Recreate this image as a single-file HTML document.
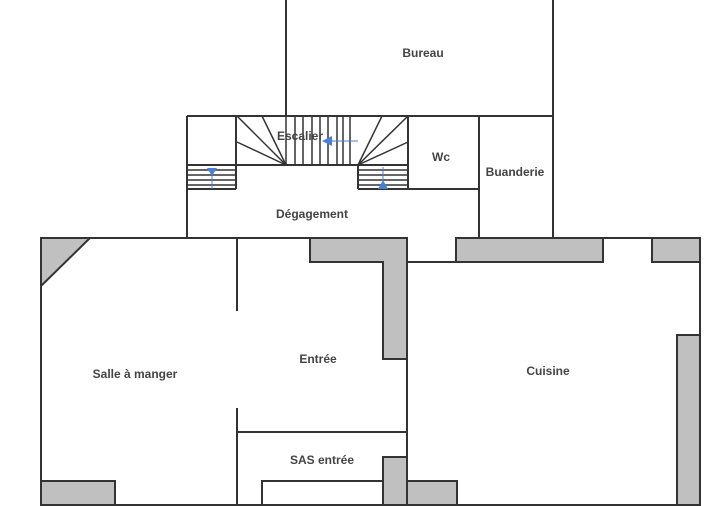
<!DOCTYPE html>
<html><head><meta charset="utf-8"><style>
html,body{margin:0;padding:0;background:#fff;width:721px;height:506px;overflow:hidden}
text{font-family:"Liberation Sans",sans-serif;font-weight:bold;font-size:12px;fill:#444}
</style></head><body>
<svg width="721" height="506" viewBox="0 0 721 506" xmlns="http://www.w3.org/2000/svg">
<g fill="#c0c0c0" stroke="#333" stroke-width="2">
<polygon points="41,238 90,238 41,286"/>
<polygon points="310,238 407,238 407,359 383,359 383,262 310,262"/>
<rect x="383" y="457" width="24" height="48"/>
<rect x="41" y="481" width="74" height="24"/>
<rect x="456" y="238" width="147" height="24"/>
<rect x="652" y="238" width="48" height="24"/>
<rect x="677" y="335" width="23" height="170"/>
<rect x="407" y="481" width="50" height="24"/>
</g>
<g fill="none" stroke="#333" stroke-width="2">
<polyline points="286,0 286,116"/>
<polyline points="553,0 553,238"/>
<polyline points="187,116 553,116"/>
<polyline points="187,116 187,238 407,238"/>
<line x1="479" y1="116" x2="479" y2="238"/>
<line x1="408" y1="116" x2="408" y2="189"/>
<line x1="358" y1="189" x2="479" y2="189"/>
<line x1="236" y1="116" x2="236" y2="189"/>
<line x1="187" y1="189" x2="236" y2="189"/>
<line x1="187" y1="165" x2="236" y2="165"/>
<line x1="236" y1="165" x2="358" y2="165"/>
<line x1="358" y1="165" x2="408" y2="165"/>
<line x1="358" y1="165" x2="358" y2="189"/>
<line x1="479" y1="238" x2="553" y2="238"/>
<polyline points="41,238 407,238 407,505"/>
<line x1="41" y1="238" x2="41" y2="505"/>
<line x1="41" y1="505" x2="700" y2="505"/>
<line x1="237" y1="238" x2="237" y2="311"/>
<line x1="237" y1="408" x2="237" y2="505"/>
<line x1="237" y1="432" x2="407" y2="432"/>
<polyline points="262,505 262,481 383,481"/>
<line x1="407" y1="262" x2="456" y2="262"/>
<polyline points="603,238 652,238"/>
<polyline points="700,238 700,505"/>
</g>
<g fill="none" stroke="#333" stroke-width="1.5">
<line x1="286" y1="165" x2="237" y2="116"/>
<line x1="286" y1="165" x2="262" y2="116"/>
<line x1="286" y1="165" x2="237" y2="142"/>
<line x1="358" y1="165" x2="408" y2="116"/>
<line x1="358" y1="165" x2="382" y2="116"/>
<line x1="358" y1="165" x2="408" y2="142"/>
<line x1="295" y1="116" x2="295" y2="165"/>
<line x1="303" y1="116" x2="303" y2="165"/>
<line x1="312" y1="116" x2="312" y2="165"/>
<line x1="320" y1="116" x2="320" y2="165"/>
<line x1="328" y1="116" x2="328" y2="165"/>
<line x1="337" y1="116" x2="337" y2="165"/>
<line x1="343" y1="116" x2="343" y2="165"/>
<line x1="350" y1="116" x2="350" y2="165"/>
<line x1="286" y1="116" x2="286" y2="165"/>
<line x1="187" y1="170" x2="236" y2="170"/>
<line x1="187" y1="175" x2="236" y2="175"/>
<line x1="187" y1="180" x2="236" y2="180"/>
<line x1="187" y1="185" x2="236" y2="185"/>
<line x1="358" y1="170" x2="408" y2="170"/>
<line x1="358" y1="175" x2="408" y2="175"/>
<line x1="358" y1="180" x2="408" y2="180"/>
<line x1="358" y1="185" x2="408" y2="185"/>
</g>
<g stroke="#4a7fd6" fill="#4a7fd6">
<line x1="212" y1="168" x2="212" y2="189" stroke-width="1"/>
<polygon points="207,168 217,168 212,176" stroke="none"/>
<line x1="383" y1="167" x2="383" y2="189" stroke-width="1"/>
<polygon points="378,189 388,189 383,180" stroke="none"/>
<line x1="330" y1="141" x2="358" y2="141" stroke-width="1"/>
<polygon points="322,141 332,136 332,146" stroke="none"/>
</g>
<text x="423" y="57" text-anchor="middle">Bureau</text>
<text x="300" y="140" text-anchor="middle">Escalier</text>
<text x="441" y="161" text-anchor="middle">Wc</text>
<text x="515" y="176" text-anchor="middle">Buanderie</text>
<text x="312" y="218" text-anchor="middle">Dégagement</text>
<text x="135" y="378" text-anchor="middle">Salle à manger</text>
<text x="318" y="363" text-anchor="middle">Entrée</text>
<text x="548" y="375" text-anchor="middle">Cuisine</text>
<text x="322" y="464" text-anchor="middle">SAS entrée</text>
</svg>
</body></html>
